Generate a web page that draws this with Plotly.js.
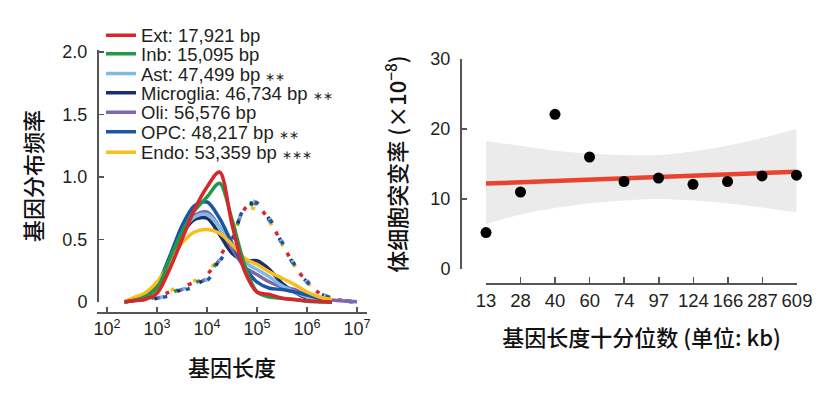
<!DOCTYPE html>
<html>
<head>
<meta charset="utf-8">
<script src="https://cdn.plot.ly/plotly-3.0.1.min.js"></script>
<style>html,body{margin:0;padding:0;background:#fff;}#chart{width:832px;height:394px;}</style>
</head>
<body>
<div id="chart"></div>
<script>
// ---------- Left panel: gene length distributions ----------
const geneLengthBp = [224, 316, 562, 1000, 1778, 3162, 5623, 10000, 17783, 31623, 56234, 100000, 177828, 316228, 562341, 1000000, 1778279, 3162278, 5623413, 10000000];
const mutLengthBp = [224, 316, 562, 1000, 1778, 3162, 5623, 10000, 17783, 31623, 50119, 70795, 112202, 177828, 316228, 562341, 1000000, 1778279, 3162278, 5623413, 10000000];

const cellTypes = ['Ext', 'Inb', 'Ast', 'Microglia', 'Oli', 'OPC', 'Endo'];
const medianBp = ['17,921', '15,095', '47,499', '46,734', '56,576', '48,217', '53,359'];
const stars = ['', '', '∗∗', '∗∗', '', '∗∗', '∗∗∗'];

const extGenes = [0.0, 0.01, 0.02, 0.07, 0.26, 0.50, 0.74, 0.92, 1.04, 0.62, 0.25, 0.08, 0.06, 0.03, 0.02, 0.01, 0.005, 0.0];
const inbGenes = [0.0, 0.01, 0.04, 0.11, 0.34, 0.56, 0.73, 0.84, 0.95, 0.66, 0.30, 0.08, 0.04, 0.03, 0.02, 0.005, 0.0, 0.0];
const astGenes = [0.0, 0.02, 0.05, 0.14, 0.34, 0.56, 0.68, 0.70, 0.60, 0.46, 0.32, 0.26, 0.20, 0.13, 0.08, 0.04, 0.02, 0.005];
const microGenes = [0.0, 0.01, 0.04, 0.12, 0.32, 0.54, 0.66, 0.67, 0.54, 0.39, 0.33, 0.33, 0.26, 0.15, 0.08, 0.03, 0.01, 0.0];
const oliGenes = [0.0, 0.02, 0.05, 0.13, 0.33, 0.55, 0.69, 0.72, 0.60, 0.43, 0.28, 0.22, 0.16, 0.12, 0.10, 0.05, 0.03, 0.016, 0.008, 0.003];
const opcGenes = [0.0, 0.02, 0.05, 0.14, 0.36, 0.61, 0.77, 0.80, 0.67, 0.47, 0.28, 0.16, 0.11, 0.10, 0.08, 0.056, 0.03, 0.01];
const endoGenes = [0.0, 0.03, 0.07, 0.16, 0.31, 0.47, 0.56, 0.58, 0.55, 0.46, 0.35, 0.30, 0.24, 0.19, 0.14, 0.08, 0.04, 0.016];

const extMut = [0, 0.01, 0.02, 0.04, 0.08, 0.12, 0.16, 0.22, 0.36, 0.53, 0.71, 0.78, 0.75, 0.65, 0.47, 0.29, 0.16, 0.07, 0.03, 0.01, 0];
const inbMut = [0, 0.01, 0.02, 0.04, 0.07, 0.11, 0.15, 0.21, 0.35, 0.52, 0.70, 0.78, 0.75, 0.65, 0.47, 0.29, 0.16, 0.07, 0.03, 0.01, 0];
const astMut = [0, 0.01, 0.02, 0.03, 0.06, 0.10, 0.13, 0.18, 0.33, 0.51, 0.72, 0.81, 0.78, 0.67, 0.48, 0.30, 0.16, 0.07, 0.03, 0.01, 0];
const microMut = [0, 0.01, 0.02, 0.03, 0.06, 0.10, 0.14, 0.19, 0.34, 0.52, 0.71, 0.79, 0.77, 0.66, 0.47, 0.29, 0.16, 0.07, 0.03, 0.01, 0];
const oliMut = [0, 0.01, 0.02, 0.03, 0.06, 0.10, 0.14, 0.19, 0.34, 0.52, 0.71, 0.79, 0.77, 0.66, 0.48, 0.30, 0.17, 0.08, 0.03, 0.01, 0];
const opcMut = [0, 0.01, 0.02, 0.03, 0.05, 0.09, 0.12, 0.17, 0.32, 0.50, 0.72, 0.81, 0.78, 0.67, 0.48, 0.30, 0.16, 0.07, 0.03, 0.01, 0];
const endoMut = [0, 0.01, 0.03, 0.05, 0.09, 0.13, 0.17, 0.23, 0.37, 0.53, 0.69, 0.75, 0.73, 0.64, 0.46, 0.29, 0.16, 0.07, 0.03, 0.01, 0];

const colors = ['#d7262c', '#1f9a48', '#80b9e1', '#1b2f6e', '#7f66b4', '#1a56a6', '#f9be1b'];
const geneSeries = [extGenes, inbGenes, astGenes, microGenes, oliGenes, opcGenes, endoGenes];
const mutSeries = [extMut, inbMut, astMut, microMut, oliMut, opcMut, endoMut];

const xTickVals = [100, 1000, 10000, 100000, 1000000, 10000000];
const xTickText = ['10<sup>2</sup>', '10<sup>3</sup>', '10<sup>4</sup>', '10<sup>5</sup>', '10<sup>6</sup>', '10<sup>7</sup>'];
const yTickVals = [0, 0.5, 1.0, 1.5, 2.0];
const yTickText = ['0', '0.5', '1.0', '1.5', '2.0'];

// ---------- Right panel: somatic mutation rate by gene-length decile ----------
const deciles = ['13', '28', '40', '60', '74', '97', '124', '166', '287', '609'];
const mutationRate = [5.2, 11.0, 22.1, 16.0, 12.5, 13.0, 12.1, 12.5, 13.3, 13.4];
const bandUpper = [18.3, 17.6, 16.9, 16.5, 16.3, 16.3, 16.8, 17.6, 18.7, 20.0];
const bandLower = [6.4, 7.8, 8.7, 9.4, 9.8, 10.0, 9.8, 9.4, 8.8, 8.1];
const fitDeciles = ['13', '609'];
const fitRate = [12.2, 13.9];
const rateTicks = [0, 10, 20, 30];

// ---------- build ----------
const W = 832, H = 394;
const px = v => v / W;          // horizontal paper fraction
const py = v => 1 - v / H;      // vertical paper fraction
const TXT = '#231f20';
const AX = '#555555';
const LAT = 'Liberation Sans, Arial, Helvetica, sans-serif';
const CJK = 'Noto Sans CJK SC, sans-serif';

const traces = [];
// dotted (mutation) curves: each colour takes its own phase of a shared dash cycle
const drawOrderMut = [6, 1, 3, 4, 2, 5, 0];
drawOrderMut.forEach((k, j) => {
  const off = j * 3;
  const dash = off === 0 ? '4px,20px' : ('0px,' + off + 'px,4px,' + (20 - off) + 'px');
  traces.push({
    type: 'scatter', mode: 'lines', x: mutLengthBp, y: mutSeries[k],
    line: {color: colors[k], width: 3.5, dash: dash, shape: 'spline', smoothing: 0.9},
    showlegend: false, hoverinfo: 'skip', xaxis: 'x', yaxis: 'y'
  });
});
// solid (gene) curves
const drawOrderGene = [3, 4, 2, 5, 6, 1, 0];
drawOrderGene.forEach(k => {
  traces.push({
    type: 'scatter', mode: 'lines', x: geneLengthBp, y: geneSeries[k],
    name: cellTypes[k] + ': ' + medianBp[k] + ' bp' + (stars[k] ? ' <span style="font-size:12px">' + stars[k] + '</span>' : ''),
    line: {color: colors[k], width: 3.5, shape: 'spline', smoothing: 0.9},
    legend: k === 0 ? 'legend' : 'legend' + (k + 1),
    xaxis: 'x', yaxis: 'y'
  });
});
// empty carriers for the offset axes
traces.push({type: 'scatter', mode: 'lines', x: [], y: [], xaxis: 'x', yaxis: 'y3', showlegend: false, hoverinfo: 'skip'});
traces.push({type: 'scatter', mode: 'lines', x: [], y: [], xaxis: 'x4', yaxis: 'y4', showlegend: false, hoverinfo: 'skip'});

// right panel
traces.push({type: 'scatter', mode: 'lines', x: deciles, y: bandLower, line: {width: 0, shape: 'spline'}, showlegend: false, hoverinfo: 'skip', xaxis: 'x2', yaxis: 'y2'});
traces.push({type: 'scatter', mode: 'lines', x: deciles, y: bandUpper, line: {width: 0, shape: 'spline'}, fill: 'tonexty', fillcolor: '#ebebeb', showlegend: false, hoverinfo: 'skip', xaxis: 'x2', yaxis: 'y2'});
traces.push({type: 'scatter', mode: 'lines', x: fitDeciles, y: fitRate, line: {color: '#e8432f', width: 4.5}, showlegend: false, xaxis: 'x2', yaxis: 'y2'});
traces.push({type: 'scatter', mode: 'markers', x: deciles, y: mutationRate, marker: {color: '#000', size: 11}, cliponaxis: false, showlegend: false, xaxis: 'x2', yaxis: 'y2'});

const legendRows = [35.7, 54.3, 74, 93.3, 112.7, 132.3, 152.7];
const legendBase = {
  x: px(101), xanchor: 'left', yanchor: 'middle', bgcolor: 'rgba(0,0,0,0)', borderwidth: 0,
  font: {family: LAT, size: 18.5, color: TXT}, itemclick: false, itemdoubleclick: false
};

const tickFont = {family: LAT, size: 18, color: TXT};
const titleFont = {family: CJK, size: 22, color: '#111', weight: 500};

const layout = {
  width: W, height: H, margin: {l: 0, r: 0, t: 0, b: 0},
  paper_bgcolor: '#fff', plot_bgcolor: 'rgba(0,0,0,0)',
  showlegend: true,
  xaxis: {
    domain: [px(97), px(367)], type: 'log', range: [1.8, 7.2], anchor: 'y',
    showline: true, linecolor: AX, linewidth: 1.5, ticks: 'inside', ticklen: 5, tickwidth: 1.5, tickcolor: AX,
    tickvals: xTickVals, ticktext: xTickText, tickfont: tickFont, showgrid: false, zeroline: false,
    title: {text: '基因长度', font: titleFont, standoff: 22}
  },
  yaxis: {domain: [py(312), py(40)], range: [-0.08, 2.096], anchor: 'x', visible: false, fixedrange: true},
  yaxis3: {
    domain: [py(302), py(50)], range: [0, 2.016], anchor: 'free', position: px(97),
    showline: true, linecolor: AX, linewidth: 1.5, ticks: 'inside', ticklen: 5, tickwidth: 1.5, tickcolor: AX,
    tickvals: yTickVals, ticktext: yTickText, tickfont: tickFont, showgrid: false, zeroline: false,
    ticklabelstandoff: 6,
    title: {text: '基因分布频率', font: titleFont, standoff: 12}
  },
  xaxis2: {domain: [px(460), px(805)], type: 'category', range: [-0.754, 9.246], anchor: 'y2', visible: false},
  yaxis2: {domain: [py(283), py(52)], range: [-2, 31], anchor: 'x2', visible: false},
  xaxis4: {
    domain: [px(486), px(797)], range: [0, 9], anchor: 'free', position: py(283),
    showline: true, linecolor: AX, linewidth: 1.5, ticks: 'inside', ticklen: 6, tickwidth: 1.5, tickcolor: AX,
    tickvals: deciles.map((d, i) => i), ticktext: deciles, tickfont: {family: LAT, size: 18.5, color: TXT},
    showgrid: false, zeroline: false,
    title: {text: '基因长度十分位数 (单位: kb)', font: titleFont, standoff: 21}
  },
  yaxis4: {
    domain: [py(269), py(59)], range: [0, 30], anchor: 'free', position: px(460),
    showline: true, linecolor: AX, linewidth: 1.5, ticks: 'inside', ticklen: 5, tickwidth: 1.5, tickcolor: AX,
    tickvals: rateTicks, tickfont: tickFont, showgrid: false, zeroline: false, ticklabelstandoff: 6,
    title: {text: '体细胞突变率 (×10<sup>−8</sup>)', font: titleFont, standoff: 16}
  }
};
cellTypes.forEach((c, k) => {
  const key = k === 0 ? 'legend' : 'legend' + (k + 1);
  layout[key] = Object.assign({}, legendBase, {y: py(legendRows[k])});
});

Plotly.newPlot('chart', traces, layout, {displayModeBar: false, staticPlot: true});
</script>
</body>
</html>
